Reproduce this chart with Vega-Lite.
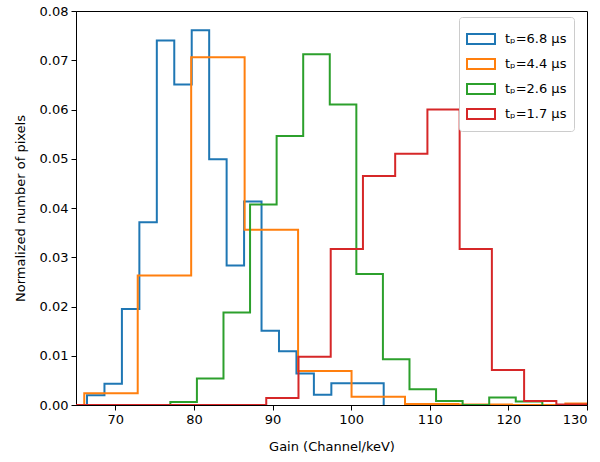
{
  "$schema": "https://vega.github.io/schema/vega-lite/v6.json",
  "width": 511,
  "height": 394,
  "autosize": {"type": "none"},
  "padding": {"left": 76, "top": 11, "right": 13, "bottom": 57},
  "background": "white",
  "config": {
    "view": {"stroke": "#000", "strokeWidth": 1},
    "font": "DejaVu Sans",
    "axis": {
      "domainColor": "#000",
      "tickColor": "#000",
      "labelColor": "#000",
      "titleColor": "#000",
      "labelFontSize": 13,
      "titleFontSize": 13,
      "titleFontWeight": "normal",
      "tickSize": 5,
      "labelPadding": 3,
      "grid": false
    }
  },
  "data": {
    "values": [
      {"series": "tₚ=6.8 μs", "i": 0, "x": 66.40, "y": 0},
      {"series": "tₚ=6.8 μs", "i": 1, "x": 66.40, "y": 0.0020},
      {"series": "tₚ=6.8 μs", "i": 2, "x": 68.62, "y": 0.0043},
      {"series": "tₚ=6.8 μs", "i": 3, "x": 70.84, "y": 0.0195},
      {"series": "tₚ=6.8 μs", "i": 4, "x": 73.06, "y": 0.0371},
      {"series": "tₚ=6.8 μs", "i": 5, "x": 75.28, "y": 0.0740},
      {"series": "tₚ=6.8 μs", "i": 6, "x": 77.50, "y": 0.0651},
      {"series": "tₚ=6.8 μs", "i": 7, "x": 79.72, "y": 0.0761},
      {"series": "tₚ=6.8 μs", "i": 8, "x": 81.94, "y": 0.0499},
      {"series": "tₚ=6.8 μs", "i": 9, "x": 84.16, "y": 0.0283},
      {"series": "tₚ=6.8 μs", "i": 10, "x": 86.38, "y": 0.0413},
      {"series": "tₚ=6.8 μs", "i": 11, "x": 88.60, "y": 0.0151},
      {"series": "tₚ=6.8 μs", "i": 12, "x": 90.82, "y": 0.0109},
      {"series": "tₚ=6.8 μs", "i": 13, "x": 93.04, "y": 0.0064},
      {"series": "tₚ=6.8 μs", "i": 14, "x": 95.26, "y": 0.0021},
      {"series": "tₚ=6.8 μs", "i": 15, "x": 97.48, "y": 0.0044},
      {"series": "tₚ=6.8 μs", "i": 16, "x": 99.70, "y": 0.0044},
      {"series": "tₚ=6.8 μs", "i": 17, "x": 101.92, "y": 0.0044},
      {"series": "tₚ=6.8 μs", "i": 18, "x": 104.14, "y": 0},

      {"series": "tₚ=4.4 μs", "i": 0, "x": 66.05, "y": 0},
      {"series": "tₚ=4.4 μs", "i": 1, "x": 66.05, "y": 0.0024},
      {"series": "tₚ=4.4 μs", "i": 2, "x": 72.85, "y": 0.0263},
      {"series": "tₚ=4.4 μs", "i": 3, "x": 79.65, "y": 0.0706},
      {"series": "tₚ=4.4 μs", "i": 4, "x": 86.45, "y": 0.0356},
      {"series": "tₚ=4.4 μs", "i": 5, "x": 93.25, "y": 0.0069},
      {"series": "tₚ=4.4 μs", "i": 6, "x": 100.05, "y": 0.0017},
      {"series": "tₚ=4.4 μs", "i": 7, "x": 106.85, "y": 0.0002},
      {"series": "tₚ=4.4 μs", "i": 8, "x": 113.65, "y": 0.0001},
      {"series": "tₚ=4.4 μs", "i": 9, "x": 120.45, "y": 0},
      {"series": "tₚ=4.4 μs", "i": 10, "x": 127.25, "y": 0.0003},
      {"series": "tₚ=4.4 μs", "i": 11, "x": 134.05, "y": 0},

      {"series": "tₚ=2.6 μs", "i": 0, "x": 77.00, "y": 0},
      {"series": "tₚ=2.6 μs", "i": 1, "x": 77.00, "y": 0.0006},
      {"series": "tₚ=2.6 μs", "i": 2, "x": 80.38, "y": 0.0054},
      {"series": "tₚ=2.6 μs", "i": 3, "x": 83.76, "y": 0.0188},
      {"series": "tₚ=2.6 μs", "i": 4, "x": 87.14, "y": 0.0407},
      {"series": "tₚ=2.6 μs", "i": 5, "x": 90.52, "y": 0.0546},
      {"series": "tₚ=2.6 μs", "i": 6, "x": 93.90, "y": 0.0712},
      {"series": "tₚ=2.6 μs", "i": 7, "x": 97.28, "y": 0.0610},
      {"series": "tₚ=2.6 μs", "i": 8, "x": 100.66, "y": 0.0266},
      {"series": "tₚ=2.6 μs", "i": 9, "x": 104.04, "y": 0.0093},
      {"series": "tₚ=2.6 μs", "i": 10, "x": 107.42, "y": 0.0032},
      {"series": "tₚ=2.6 μs", "i": 11, "x": 110.80, "y": 0.0008},
      {"series": "tₚ=2.6 μs", "i": 12, "x": 114.18, "y": 0},
      {"series": "tₚ=2.6 μs", "i": 13, "x": 117.56, "y": 0.0015},
      {"series": "tₚ=2.6 μs", "i": 14, "x": 120.94, "y": 0.0007},
      {"series": "tₚ=2.6 μs", "i": 15, "x": 124.32, "y": 0},

      {"series": "tₚ=1.7 μs", "i": 0, "x": 64.60, "y": 0},
      {"series": "tₚ=1.7 μs", "i": 1, "x": 64.60, "y": 0},
      {"series": "tₚ=1.7 μs", "i": 2, "x": 68.70, "y": 0},
      {"series": "tₚ=1.7 μs", "i": 3, "x": 72.80, "y": 0},
      {"series": "tₚ=1.7 μs", "i": 4, "x": 76.90, "y": 0},
      {"series": "tₚ=1.7 μs", "i": 5, "x": 81.00, "y": 0},
      {"series": "tₚ=1.7 μs", "i": 6, "x": 85.10, "y": 0},
      {"series": "tₚ=1.7 μs", "i": 7, "x": 89.20, "y": 0.0014},
      {"series": "tₚ=1.7 μs", "i": 8, "x": 93.30, "y": 0.0098},
      {"series": "tₚ=1.7 μs", "i": 9, "x": 97.40, "y": 0.0317},
      {"series": "tₚ=1.7 μs", "i": 10, "x": 101.50, "y": 0.0465},
      {"series": "tₚ=1.7 μs", "i": 11, "x": 105.60, "y": 0.0510},
      {"series": "tₚ=1.7 μs", "i": 12, "x": 109.70, "y": 0.0600},
      {"series": "tₚ=1.7 μs", "i": 13, "x": 113.80, "y": 0.0317},
      {"series": "tₚ=1.7 μs", "i": 14, "x": 117.90, "y": 0.0071},
      {"series": "tₚ=1.7 μs", "i": 15, "x": 122.00, "y": 0.0008},
      {"series": "tₚ=1.7 μs", "i": 16, "x": 126.10, "y": 0.0001},
      {"series": "tₚ=1.7 μs", "i": 17, "x": 130.20, "y": 0}
    ]
  },
  "mark": {"type": "line", "interpolate": "step-after", "strokeWidth": 2, "clip": true},
  "encoding": {
    "x": {
      "field": "x",
      "type": "quantitative",
      "scale": {"domain": [65, 130], "nice": false, "zero": false},
      "axis": {"values": [70, 80, 90, 100, 110, 120, 130], "title": "Gain (Channel/keV)", "titlePadding": 14}
    },
    "y": {
      "field": "y",
      "type": "quantitative",
      "scale": {"domain": [0, 0.08], "nice": false},
      "axis": {"values": [0, 0.01, 0.02, 0.03, 0.04, 0.05, 0.06, 0.07, 0.08], "format": ".2f", "title": "Normalized number of pixels", "titlePadding": 12}
    },
    "color": {
      "field": "series",
      "type": "nominal",
      "scale": {
        "domain": ["tₚ=6.8 μs", "tₚ=4.4 μs", "tₚ=2.6 μs", "tₚ=1.7 μs"],
        "range": ["#1f77b4", "#ff7f0e", "#2ca02c", "#d62728"]
      },
      "legend": {
        "title": null,
        "orient": "none",
        "legendX": 383,
        "legendY": 6,
        "padding": 7,
        "fillColor": "white",
        "strokeColor": "#cccccc",
        "cornerRadius": 3,
        "symbolType": "M-1,-0.36H1V0.36H-1Z",
        "symbolSize": 784,
        "symbolStrokeWidth": 2,
        "symbolFillColor": "white",
        "labelFontSize": 13,
        "labelColor": "#000",
        "labelOffset": 9,
        "rowPadding": 0
      }
    },
    "order": {"field": "i", "type": "quantitative"}
  }
}
